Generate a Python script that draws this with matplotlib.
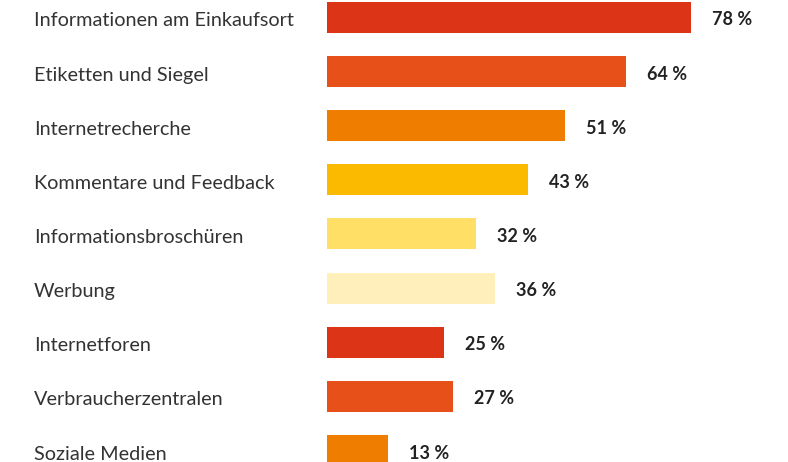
import matplotlib
matplotlib.use("Agg")
import matplotlib.pyplot as plt
from matplotlib.transforms import blended_transform_factory

categories = ["Informationen am Einkaufsort", "Etiketten und Siegel", "Internetrecherche",
              "Kommentare und Feedback", "Informationsbroschüren", "Werbung",
              "Internetforen", "Verbraucherzentralen", "Soziale Medien"]
values = [78, 64, 51, 43, 32, 36, 25, 27, 13]
value_labels = ["78 %", "64 %", "51 %", "43 %", "32 %", "36 %", "25 %", "27 %", "13 %"]
colors = ["#DC3416", "#E8501A", "#EF7D00", "#FBBA00", "#FFDF66", "#FFEFBB",
          "#DC3416", "#E8501A", "#EF7D00"]

W, H = 788, 462
fig = plt.figure(figsize=(W/100, H/100), dpi=100)
x0 = 327
pxper = 4.67
ax = fig.add_axes([x0/W, 0, 1 - x0/W, 1])
ax.set_xlim(0, (W - x0)/pxper)
step = 54.125
ax.set_ylim(8 + (H - 450.5)/step, -17.5/step)
ax.axis("off")

ys = list(range(len(categories)))
ax.barh(ys, values, height=31/step, color=colors)
tr = blended_transform_factory(fig.transFigure, ax.transData)
for y, c, v, lab in zip(ys, categories, values, value_labels):
    ax.text(34/W, y + 3.5/step, c, transform=tr, ha="left", va="center", fontsize=14.3,
            family="Lato", color="#333333")
    ax.text(v + 21/pxper, y + 2.5/step, lab, ha="left", va="center", fontsize=13,
            family="Lato", fontweight="bold", color="#222222")

fig.savefig("out.png", dpi=100)
